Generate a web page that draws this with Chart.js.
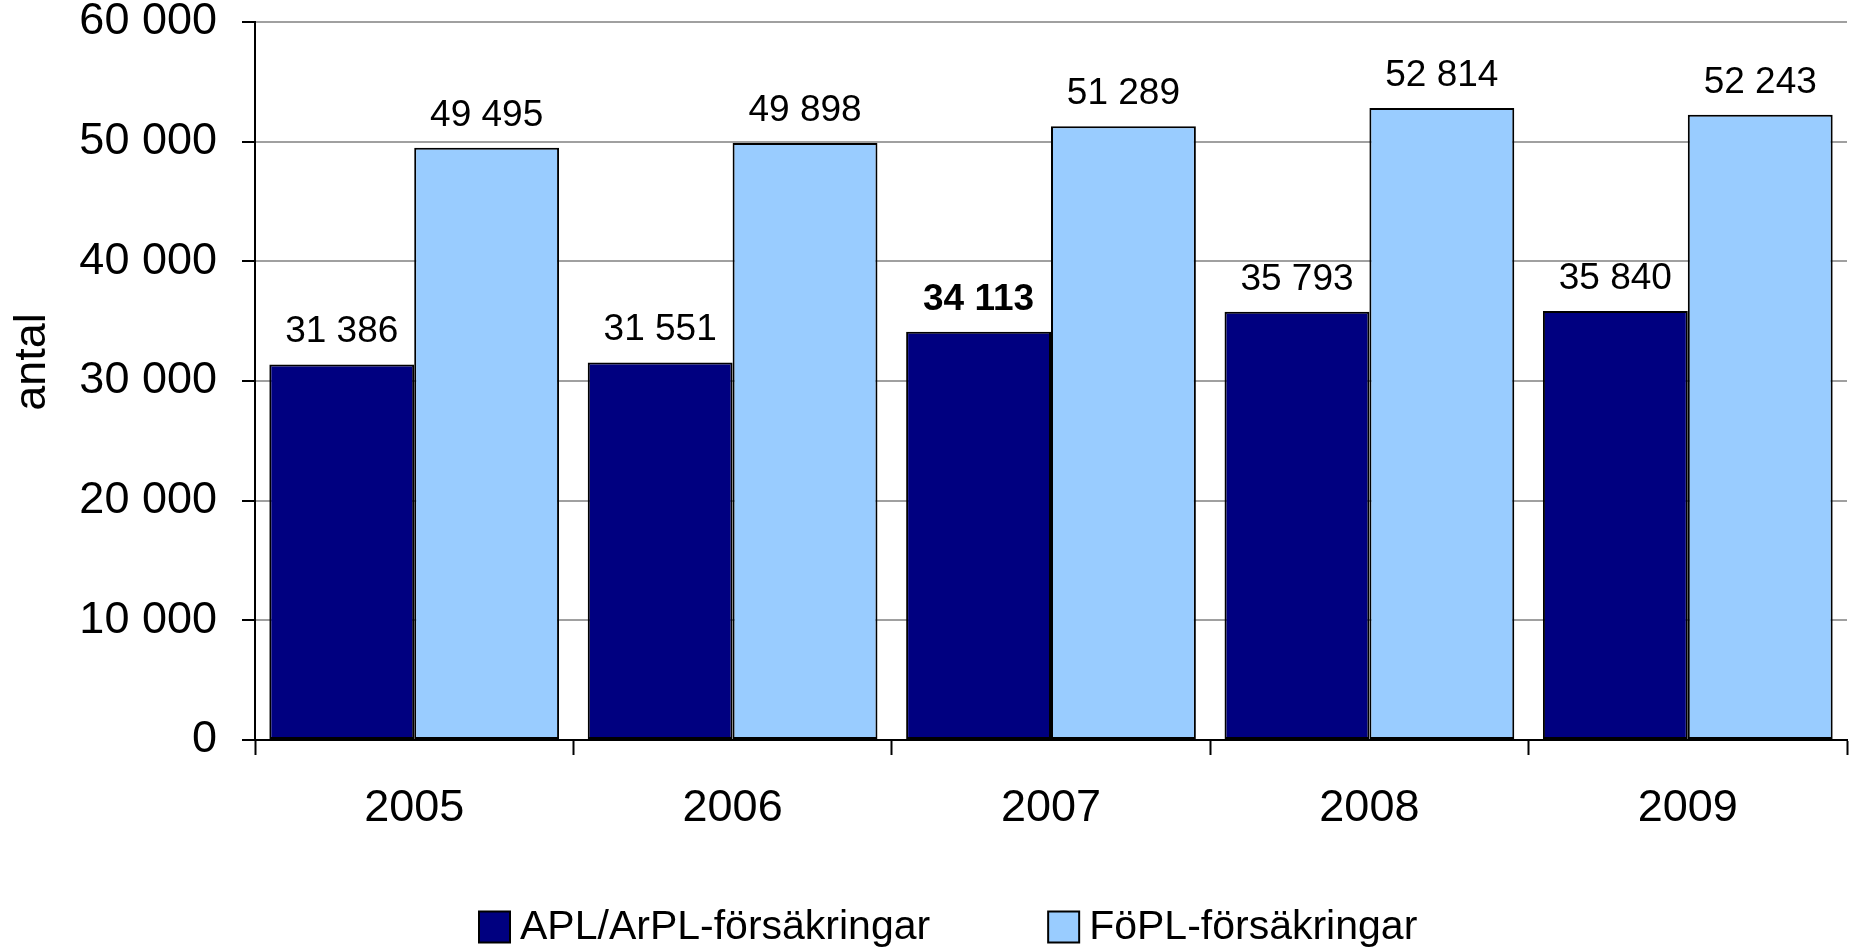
<!DOCTYPE html>
<html>
<head>
<meta charset="utf-8">
<script src="https://cdn.jsdelivr.net/npm/chart.js@4.4.1/dist/chart.umd.min.js"></script>
<style>
  html, body { margin: 0; padding: 0; background: #fff; }
  canvas { display: block; }
</style>
</head>
<body>
<canvas id="chart" width="1849" height="949"></canvas>
<script>
var years = ['2005', '2006', '2007', '2008', '2009'];
var aplValues = [31386, 31551, 34113, 35793, 35840];
var foplValues = [49495, 49898, 51289, 52814, 52243];
var seriesNames = ['APL/ArPL-försäkringar', 'FöPL-försäkringar'];
var yTicks = [0, 10000, 20000, 30000, 40000, 50000, 60000];

var FONT = '"Liberation Sans", Arial, Helvetica, sans-serif';
var DARK = '#000080';
var LIGHT = '#99CCFF';

function fmt(v) {
    return String(v).replace(/\B(?=(\d{3})+(?!\d))/g, ' ');
}

// value labels, axis title and legend drawn by hand
var extras = {
    id: 'extras',
    afterDatasetsDraw: function (chart) {
        var ctx = chart.ctx;
        ctx.save();
        ctx.fillStyle = '#000';
        ctx.textAlign = 'center';
        ctx.textBaseline = 'alphabetic';
        chart.data.datasets.forEach(function (ds, di) {
            chart.getDatasetMeta(di).data.forEach(function (bar, i) {
                // the 2007 APL label is bold in the original
                var bold = (di === 0 && i === 2);
                ctx.font = (bold ? 'bold ' : '') + '37px ' + FONT;
                ctx.fillText(fmt(ds.data[i]), bar.x, bar.y - 22);
            });
        });
        ctx.restore();
    },
    afterDraw: function (chart) {
        var ctx = chart.ctx;
        ctx.save();
        // y title
        ctx.translate(33, 362);
        ctx.rotate(-Math.PI / 2);
        ctx.font = '45px ' + FONT;
        ctx.fillStyle = '#000';
        ctx.textAlign = 'center';
        ctx.textBaseline = 'middle';
        ctx.fillText('antal', 0, 0);
        ctx.restore();

        // legend
        ctx.save();
        ctx.font = '41px ' + FONT;
        ctx.textBaseline = 'middle';
        ctx.textAlign = 'left';
        var x = 479, y = 927, box = 31;
        chart.data.datasets.forEach(function (ds) {
            ctx.fillStyle = ds.backgroundColor;
            ctx.fillRect(x, y - box / 2, box, box);
            ctx.lineWidth = 2;
            ctx.strokeStyle = '#000';
            ctx.strokeRect(x, y - box / 2, box, box);
            ctx.fillStyle = '#000';
            ctx.fillText(ds.label, x + box + 10, y + 1);
            x += box + 10 + ctx.measureText(ds.label).width + 118;
        });
        ctx.restore();
    }
};

var ctx = document.getElementById('chart');
var myChart = new Chart(ctx, {
    type: 'bar',
    data: {
        labels: years,
        datasets: [
            {
                label: seriesNames[0],
                data: aplValues,
                backgroundColor: DARK,
                borderColor: '#000',
                borderWidth: 2,
                borderSkipped: false,
                categoryPercentage: 0.91,
                barPercentage: 1.0
            },
            {
                label: seriesNames[1],
                data: foplValues,
                backgroundColor: LIGHT,
                borderColor: '#000',
                borderWidth: 2,
                borderSkipped: false,
                categoryPercentage: 0.91,
                barPercentage: 1.0
            }
        ]
    },
    options: {
        responsive: false,
        animation: false,
        events: [],
        layout: { padding: { left: 0, right: 2, top: 0, bottom: 0 } },
        plugins: {
            legend: { display: false },
            tooltip: { enabled: false }
        },
        scales: {
            x: {
                offset: true,
                grid: {
                    offset: true,
                    drawOnChartArea: false,
                    drawTicks: true,
                    tickLength: 15,
                    tickColor: '#000',
                    tickWidth: 2
                },
                border: { color: '#000', width: 2 },
                ticks: {
                    color: '#000',
                    padding: 27,
                    maxRotation: 0,
                    font: { family: FONT, size: 45 }
                },
                afterFit: function (s) {
                    s.height = 209;
                    s.paddingLeft = 0;
                    s.paddingRight = 0;
                }
            },
            y: {
                min: 0,
                max: 60000,
                afterBuildTicks: function (s) {
                    s.ticks = yTicks.map(function (v) { return { value: v }; });
                },
                grid: {
                    color: '#a0a0a0',
                    lineWidth: 2,
                    tickLength: 13,
                    tickColor: '#000',
                    tickWidth: 2
                },
                border: { color: '#000', width: 2 },
                ticks: {
                    color: '#000',
                    padding: 25,
                    font: { family: FONT, size: 45 },
                    callback: function (v) { return fmt(v); }
                },
                afterFit: function (s) {
                    s.width = 255;
                    s.paddingTop = 22;
                    s.paddingBottom = 0;
                }
            }
        }
    },
    plugins: [extras]
});
</script>
</body>
</html>
